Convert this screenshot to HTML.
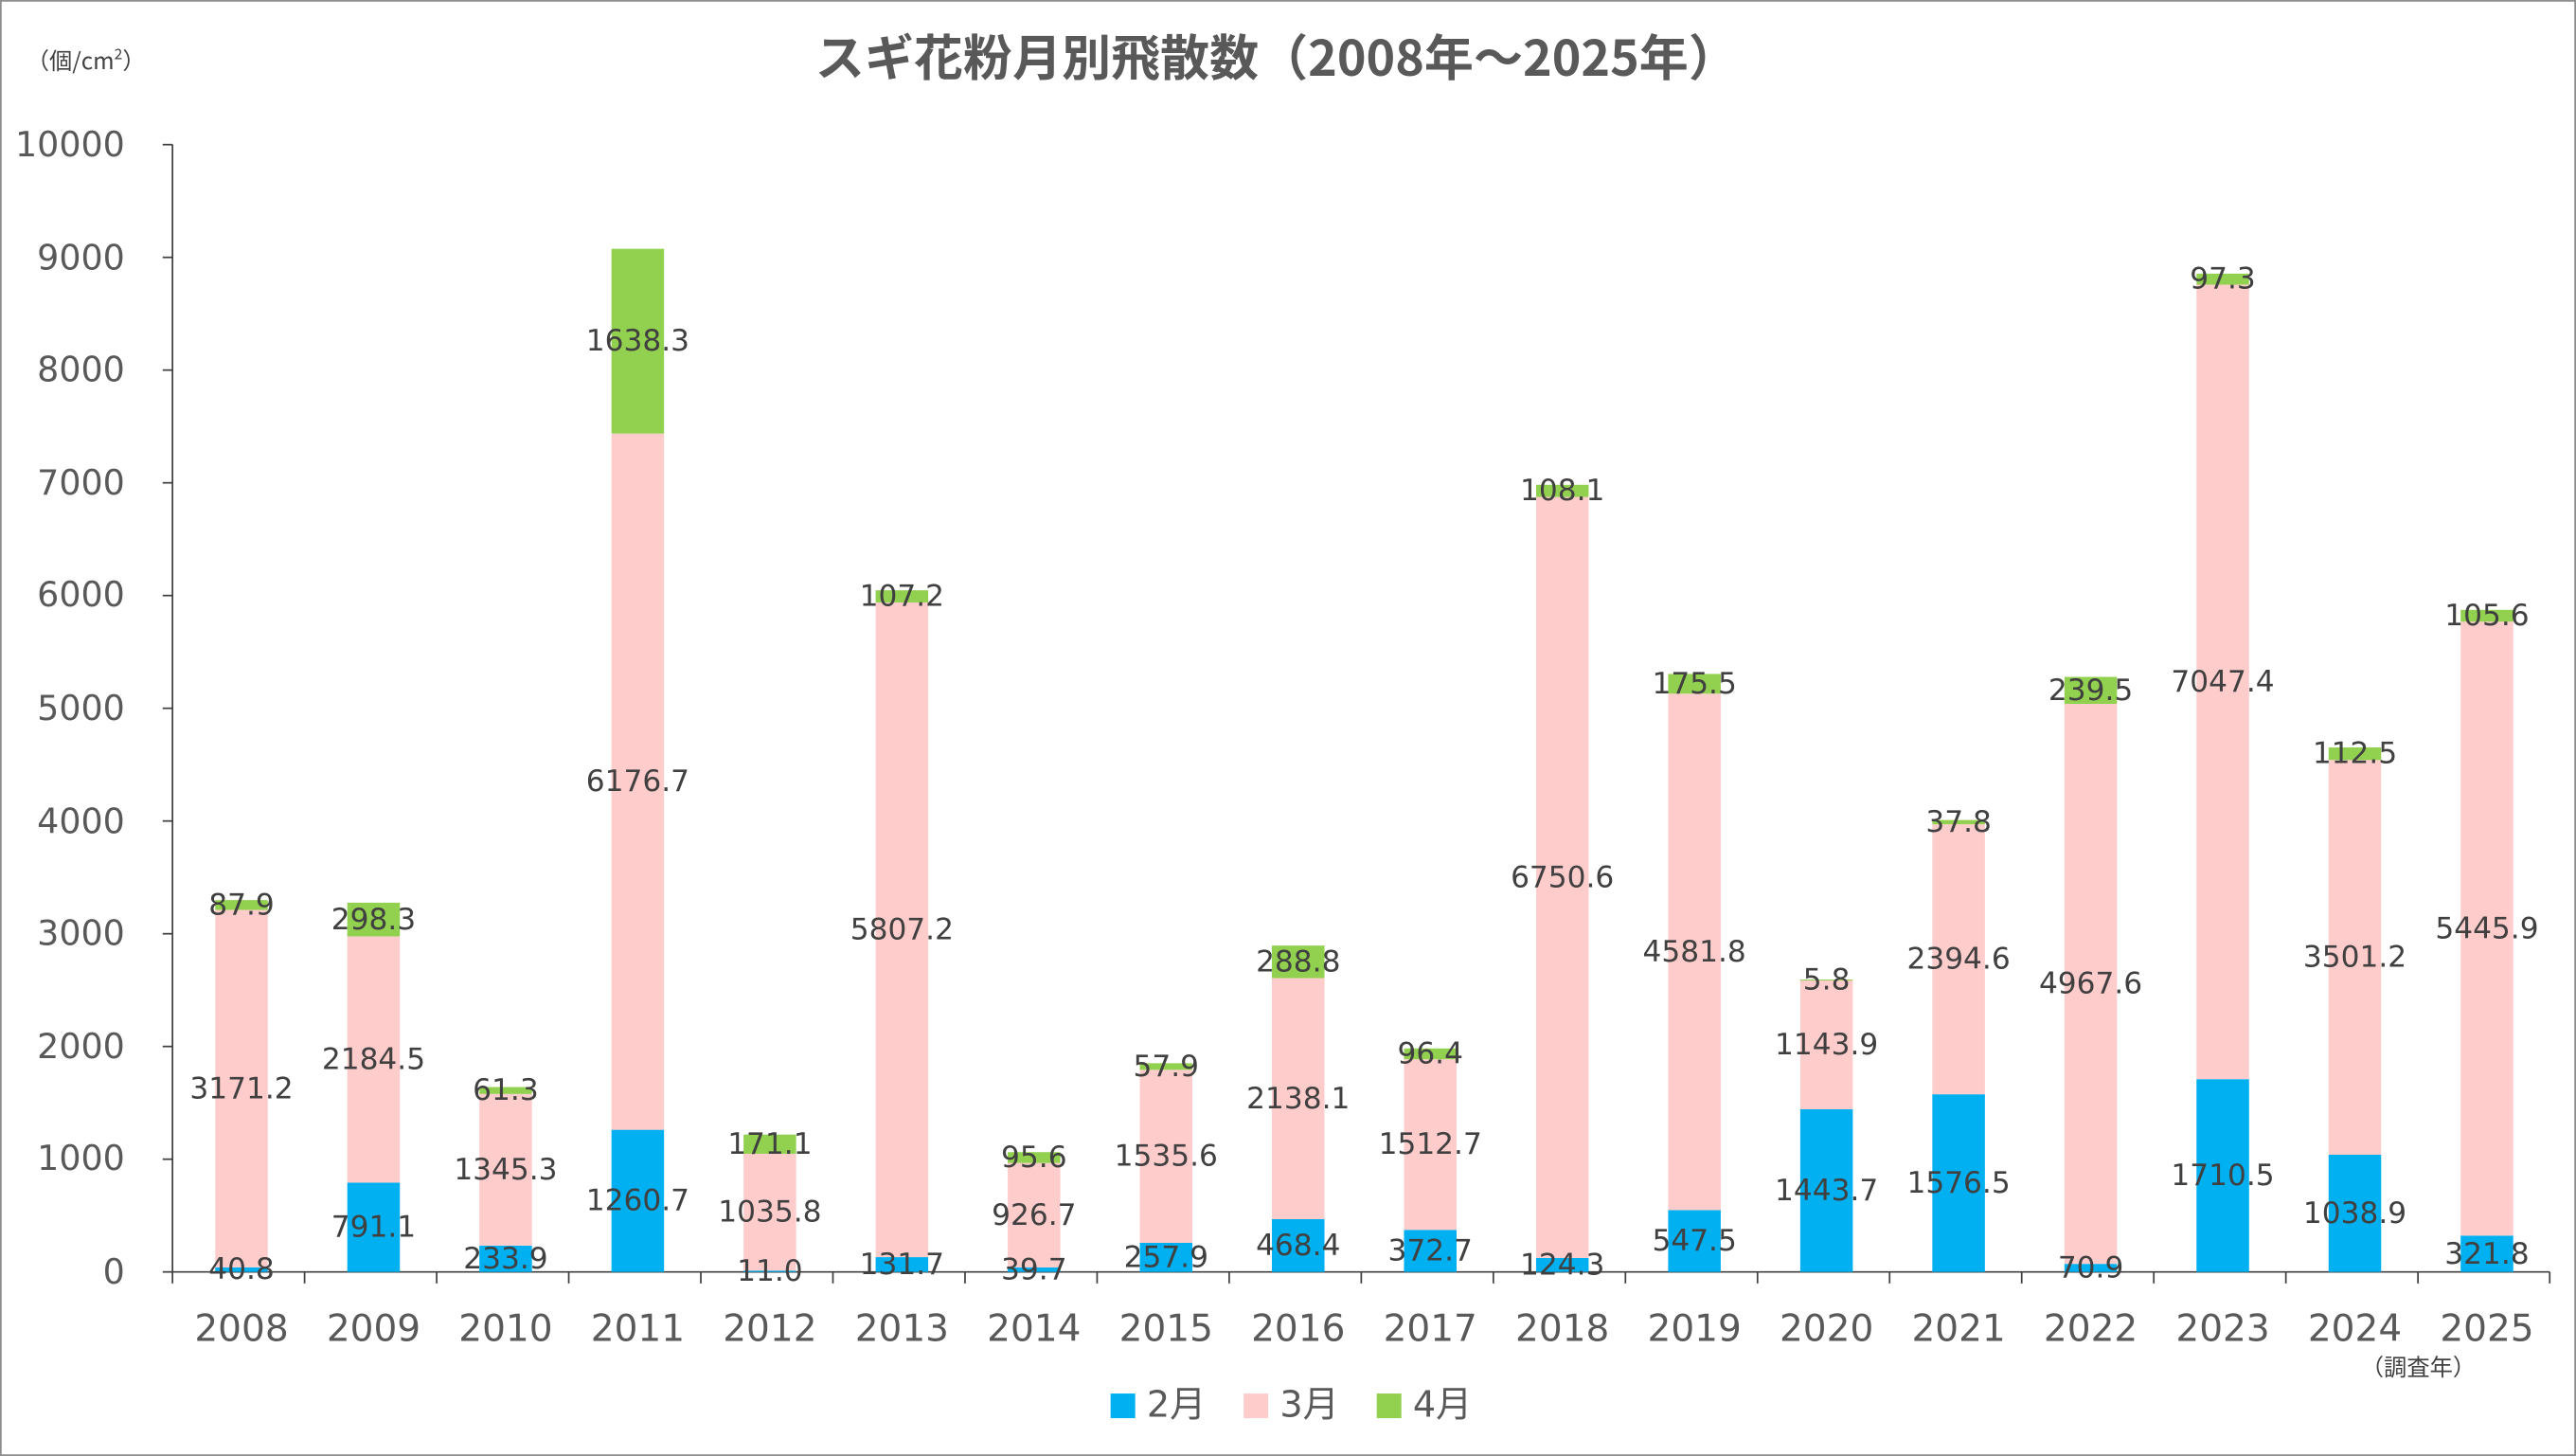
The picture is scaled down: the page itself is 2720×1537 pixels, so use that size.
<!DOCTYPE html>
<html><head><meta charset="utf-8"><style>html,body{margin:0;padding:0;background:#fff}svg{display:block}</style></head>
<body>
<svg xmlns="http://www.w3.org/2000/svg" width="2720" height="1537" viewBox="0 0 1568 886" font-family="DejaVu Sans, Noto Sans CJK JP, sans-serif">
<rect x="0.5" y="0.5" width="1567" height="885" fill="#fff" stroke="#8c8c8c" stroke-width="1"/>
<text x="777" y="46" text-anchor="middle" font-size="30" font-weight="bold" fill="#595959" font-family="Noto Sans CJK JP, sans-serif">スギ花粉月別飛散数（2008年～2025年）</text>
<text x="16" y="42" font-size="14" fill="#404040" font-family="Noto Sans CJK JP, sans-serif">（個/cm<tspan font-size="9" dy="-6">2</tspan><tspan dy="6">）</tspan></text>
<g font-size="21" fill="#595959" text-anchor="end">
<text x="76" y="95">10000</text><text x="76" y="164">9000</text><text x="76" y="232">8000</text><text x="76" y="301">7000</text><text x="76" y="369">6000</text><text x="76" y="438">5000</text><text x="76" y="507">4000</text><text x="76" y="575">3000</text><text x="76" y="644">2000</text><text x="76" y="712">1000</text><text x="76" y="781">0</text>
</g>
<g stroke="#404040" stroke-width="1">
<line x1="105" y1="88" x2="105" y2="774"/>
<line x1="99" y1="88" x2="105" y2="88"/><line x1="99" y1="156.6" x2="105" y2="156.6"/><line x1="99" y1="225.2" x2="105" y2="225.2"/><line x1="99" y1="293.8" x2="105" y2="293.8"/><line x1="99" y1="362.4" x2="105" y2="362.4"/><line x1="99" y1="431" x2="105" y2="431"/><line x1="99" y1="499.6" x2="105" y2="499.6"/><line x1="99" y1="568.2" x2="105" y2="568.2"/><line x1="99" y1="636.8" x2="105" y2="636.8"/><line x1="99" y1="705.4" x2="105" y2="705.4"/><line x1="99" y1="774" x2="105" y2="774"/>
<line x1="105" y1="774" x2="1552" y2="774"/>
<line x1="105" y1="774" x2="105" y2="781"/><line x1="185.4" y1="774" x2="185.4" y2="781"/><line x1="265.8" y1="774" x2="265.8" y2="781"/><line x1="346.2" y1="774" x2="346.2" y2="781"/><line x1="426.6" y1="774" x2="426.6" y2="781"/><line x1="507" y1="774" x2="507" y2="781"/><line x1="587.4" y1="774" x2="587.4" y2="781"/><line x1="667.8" y1="774" x2="667.8" y2="781"/><line x1="748.2" y1="774" x2="748.2" y2="781"/><line x1="828.6" y1="774" x2="828.6" y2="781"/><line x1="909" y1="774" x2="909" y2="781"/><line x1="989.4" y1="774" x2="989.4" y2="781"/><line x1="1069.8" y1="774" x2="1069.8" y2="781"/><line x1="1150.2" y1="774" x2="1150.2" y2="781"/><line x1="1230.6" y1="774" x2="1230.6" y2="781"/><line x1="1311" y1="774" x2="1311" y2="781"/><line x1="1391.4" y1="774" x2="1391.4" y2="781"/><line x1="1471.8" y1="774" x2="1471.8" y2="781"/><line x1="1552" y1="774" x2="1552" y2="781"/>
</g>
<g>
<rect x="131" y="771.2" width="32" height="2.8" fill="#00B0F0"/><rect x="131" y="553.7" width="32" height="217.5" fill="#FFCCCC"/><rect x="131" y="547.7" width="32" height="6" fill="#92D050"/>
<rect x="211.4" y="719.7" width="32" height="54.3" fill="#00B0F0"/><rect x="211.4" y="569.8" width="32" height="149.9" fill="#FFCCCC"/><rect x="211.4" y="549.3" width="32" height="20.5" fill="#92D050"/>
<rect x="291.8" y="758" width="32" height="16" fill="#00B0F0"/><rect x="291.8" y="665.7" width="32" height="92.3" fill="#FFCCCC"/><rect x="291.8" y="661.5" width="32" height="4.2" fill="#92D050"/>
<rect x="372.2" y="687.5" width="32" height="86.5" fill="#00B0F0"/><rect x="372.2" y="263.8" width="32" height="423.7" fill="#FFCCCC"/><rect x="372.2" y="151.4" width="32" height="112.4" fill="#92D050"/>
<rect x="452.6" y="773.2" width="32" height="0.8" fill="#00B0F0"/><rect x="452.6" y="702.1" width="32" height="71.1" fill="#FFCCCC"/><rect x="452.6" y="690.4" width="32" height="11.7" fill="#92D050"/>
<rect x="533" y="765" width="32" height="9" fill="#00B0F0"/><rect x="533" y="366.6" width="32" height="398.4" fill="#FFCCCC"/><rect x="533" y="359.2" width="32" height="7.4" fill="#92D050"/>
<rect x="613.4" y="771.3" width="32" height="2.7" fill="#00B0F0"/><rect x="613.4" y="707.7" width="32" height="63.6" fill="#FFCCCC"/><rect x="613.4" y="701.1" width="32" height="6.6" fill="#92D050"/>
<rect x="693.8" y="756.3" width="32" height="17.7" fill="#00B0F0"/><rect x="693.8" y="651" width="32" height="105.3" fill="#FFCCCC"/><rect x="693.8" y="647" width="32" height="4" fill="#92D050"/>
<rect x="774.2" y="741.9" width="32" height="32.1" fill="#00B0F0"/><rect x="774.2" y="595.2" width="32" height="146.7" fill="#FFCCCC"/><rect x="774.2" y="575.4" width="32" height="19.8" fill="#92D050"/>
<rect x="854.6" y="748.4" width="32" height="25.6" fill="#00B0F0"/><rect x="854.6" y="644.6" width="32" height="103.8" fill="#FFCCCC"/><rect x="854.6" y="638" width="32" height="6.6" fill="#92D050"/>
<rect x="935" y="765.5" width="32" height="8.5" fill="#00B0F0"/><rect x="935" y="302.4" width="32" height="463.1" fill="#FFCCCC"/><rect x="935" y="295" width="32" height="7.4" fill="#92D050"/>
<rect x="1015.4" y="736.4" width="32" height="37.6" fill="#00B0F0"/><rect x="1015.4" y="422.1" width="32" height="314.3" fill="#FFCCCC"/><rect x="1015.4" y="410.1" width="32" height="12" fill="#92D050"/>
<rect x="1095.8" y="675" width="32" height="99" fill="#00B0F0"/><rect x="1095.8" y="596.5" width="32" height="78.5" fill="#FFCCCC"/><rect x="1095.8" y="596.1" width="32" height="0.6" fill="#92D050"/>
<rect x="1176.2" y="665.9" width="32" height="108.1" fill="#00B0F0"/><rect x="1176.2" y="501.6" width="32" height="164.3" fill="#FFCCCC"/><rect x="1176.2" y="499" width="32" height="2.6" fill="#92D050"/>
<rect x="1256.6" y="769.1" width="32" height="4.9" fill="#00B0F0"/><rect x="1256.6" y="428.3" width="32" height="340.8" fill="#FFCCCC"/><rect x="1256.6" y="411.9" width="32" height="16.4" fill="#92D050"/>
<rect x="1337" y="656.7" width="32" height="117.3" fill="#00B0F0"/><rect x="1337" y="173.2" width="32" height="483.5" fill="#FFCCCC"/><rect x="1337" y="166.5" width="32" height="6.7" fill="#92D050"/>
<rect x="1417.4" y="702.7" width="32" height="71.3" fill="#00B0F0"/><rect x="1417.4" y="462.5" width="32" height="240.2" fill="#FFCCCC"/><rect x="1417.4" y="454.8" width="32" height="7.7" fill="#92D050"/>
<rect x="1497.8" y="751.9" width="32" height="22.1" fill="#00B0F0"/><rect x="1497.8" y="378.3" width="32" height="373.6" fill="#FFCCCC"/><rect x="1497.8" y="371.1" width="32" height="7.2" fill="#92D050"/>
</g>
<g font-size="18" fill="#404040" text-anchor="middle" dominant-baseline="central">
<text x="147" y="772.6">40.8</text><text x="147" y="662.5">3171.2</text><text x="147" y="550.7">87.9</text>
<text x="227.4" y="746.9">791.1</text><text x="227.4" y="644.8">2184.5</text><text x="227.4" y="559.6">298.3</text>
<text x="307.8" y="766">233.9</text><text x="307.8" y="711.9">1345.3</text><text x="307.8" y="663.6">61.3</text>
<text x="388.2" y="730.8">1260.7</text><text x="388.2" y="475.7">6176.7</text><text x="388.2" y="207.6">1638.3</text>
<text x="468.6" y="773.6">11.0</text><text x="468.6" y="737.7">1035.8</text><text x="468.6" y="696.3">171.1</text>
<text x="549" y="769.5">131.7</text><text x="549" y="565.8">5807.2</text><text x="549" y="362.9">107.2</text>
<text x="629.4" y="772.7">39.7</text><text x="629.4" y="739.5">926.7</text><text x="629.4" y="704.4">95.6</text>
<text x="709.8" y="765.2">257.9</text><text x="709.8" y="703.7">1535.6</text><text x="709.8" y="649">57.9</text>
<text x="790.2" y="758">468.4</text><text x="790.2" y="668.6">2138.1</text><text x="790.2" y="585.3">288.8</text>
<text x="870.6" y="761.2">372.7</text><text x="870.6" y="696.5">1512.7</text><text x="870.6" y="641.3">96.4</text>
<text x="951" y="769.8">124.3</text><text x="951" y="534">6750.6</text><text x="951" y="298.7">108.1</text>
<text x="1031.4" y="755.2">547.5</text><text x="1031.4" y="579.3">4581.8</text><text x="1031.4" y="416.1">175.5</text>
<text x="1111.8" y="724.5">1443.7</text><text x="1111.8" y="635.8">1143.9</text><text x="1111.8" y="596.3">5.8</text>
<text x="1192.2" y="719.9">1576.5</text><text x="1192.2" y="583.8">2394.6</text><text x="1192.2" y="500.3">37.8</text>
<text x="1272.6" y="771.6">70.9</text><text x="1272.6" y="598.7">4967.6</text><text x="1272.6" y="420.1">239.5</text>
<text x="1353" y="715.4">1710.5</text><text x="1353" y="415">7047.4</text><text x="1353" y="169.9">97.3</text>
<text x="1433.4" y="738.4">1038.9</text><text x="1433.4" y="582.6">3501.2</text><text x="1433.4" y="458.7">112.5</text>
<text x="1513.8" y="763.1">321.8</text><text x="1513.8" y="565.1">5445.9</text><text x="1513.8" y="374.7">105.6</text>
</g>
<g font-size="22.5" fill="#595959" text-anchor="middle">
<text x="147" y="816">2008</text><text x="227.4" y="816">2009</text><text x="307.8" y="816">2010</text><text x="388.2" y="816">2011</text><text x="468.6" y="816">2012</text><text x="549" y="816">2013</text><text x="629.4" y="816">2014</text><text x="709.8" y="816">2015</text><text x="790.2" y="816">2016</text><text x="870.6" y="816">2017</text><text x="951" y="816">2018</text><text x="1031.4" y="816">2019</text><text x="1111.8" y="816">2020</text><text x="1192.2" y="816">2021</text><text x="1272.6" y="816">2022</text><text x="1353" y="816">2023</text><text x="1433.4" y="816">2024</text><text x="1513.8" y="816">2025</text>
</g>
<text x="1472" y="837" text-anchor="middle" font-size="14" fill="#404040" font-family="Noto Sans CJK JP, sans-serif">（調査年）</text>
<rect x="676" y="848" width="15" height="15" fill="#00B0F0"/><text x="698" y="862" font-size="22" fill="#595959">2月</text>
<rect x="757" y="848" width="15" height="15" fill="#FFCCCC"/><text x="779" y="862" font-size="22" fill="#595959">3月</text>
<rect x="838" y="848" width="15" height="15" fill="#92D050"/><text x="860" y="862" font-size="22" fill="#595959">4月</text>
</svg>
</body></html>
